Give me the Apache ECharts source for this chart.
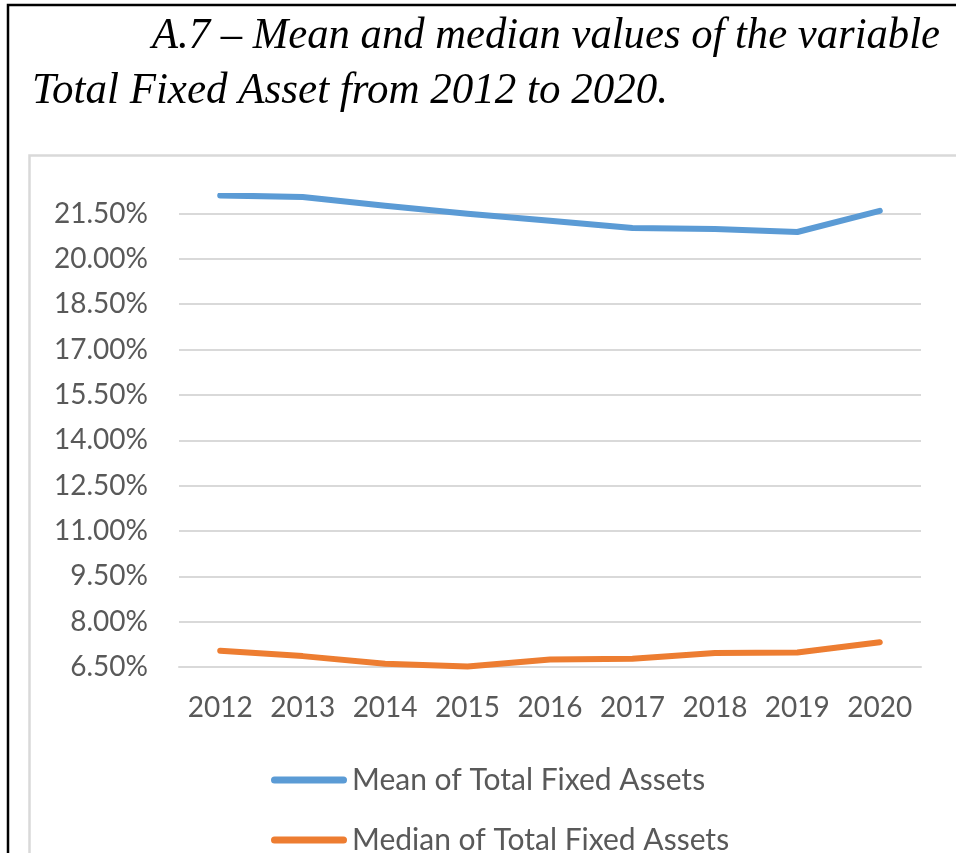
<!DOCTYPE html>
<html>
<head>
<meta charset="utf-8">
<script src="https://cdn.jsdelivr.net/npm/echarts@6/dist/echarts.min.js"></script>
<style>
	html, body { margin: 0; padding: 0; background: #fff; }
	#chart { width: 956px; height: 853px; }
</style>
</head>
<body>
<div id="chart"></div>
<script>
// data
var years = ['2012', '2013', '2014', '2015', '2016', '2017', '2018', '2019', '2020'];
var meanValues = [22.10, 22.05, 21.76, 21.49, 21.26, 21.02, 20.99, 20.89, 21.59];
var medianValues = [7.04, 6.86, 6.61, 6.52, 6.75, 6.77, 6.96, 6.98, 7.32];
var seriesNames = ['Mean of Total Fixed Assets', 'Median of Total Fixed Assets'];
var titleLines = ['A.7 \u2013 Mean and median values of the variable', 'Total Fixed Asset from 2012 to 2020.'];

var labelFont = 'Lato';
var titleFont = 'italic 44px "Liberation Serif"';
var capsule = 'path://M3.5,0 L72.5,0 A3.5,3.5 0 0 1 72.5,7 L3.5,7 A3.5,3.5 0 0 1 3.5,0 Z';

// squeeze the serif title lines to the width they have in the picture
function fitScale(text, width) {
	let ctx = document.createElement('canvas').getContext('2d');
	ctx.font = titleFont;
	return width / ctx.measureText(text).width;
}

function titleText(text, x, y, width) {
	return {
		type: 'text',
		x: x,
		y: y,
		scaleX: fitScale(text, width),
		style: {
			x: 0, y: 0,
			text: text,
			font: titleFont,
			fill: '#000',
			verticalAlign: 'bottom'
		}
	};
}

function drawChart() {
	let myChart = echarts.init(document.getElementById('chart'));

	let option = {
		animation: false,
		color: ['#5B9BD5', '#ED7D31'],
		graphic: [{
			// outer black frame
			type: 'rect',
			shape: { x: 8, y: 5, width: 1000, height: 900 },
			style: { fill: 'none', stroke: '#000', lineWidth: 2.5 },
			silent: true
		}, {
			// inner chart border
			type: 'rect',
			shape: { x: 29.5, y: 155.5, width: 1000, height: 800 },
			style: { fill: 'none', stroke: '#d9d9d9', lineWidth: 2.5 },
			silent: true
		},
			titleText(titleLines[0], 152, 58, 788),
			titleText(titleLines[1], 32, 113, 636)
		],
		grid: {
			left: 179,
			right: 35,
			top: 196,
			bottom: 186,
			containLabel: false
		},
		legend: {
			orient: 'vertical',
			left: 271,
			top: 765,
			height: 160,
			padding: 0,
			itemWidth: 76,
			itemHeight: 7,
			itemGap: 30,
			icon: capsule,
			textStyle: {
				color: '#595959',
				fontSize: 30,
				fontFamily: labelFont
			},
			data: seriesNames
		},
		xAxis: {
			type: 'category',
			boundaryGap: true,
			data: years,
			axisTick: { show: false },
			axisLine: {
				lineStyle: { color: '#d9d9d9', width: 2 }
			},
			axisLabel: {
				interval: 0,
				color: '#595959',
				fontSize: 28,
				fontFamily: labelFont,
				margin: 27
			}
		},
		yAxis: {
			type: 'value',
			min: 6.5,
			max: 22.08,
			interval: 1.5,
			axisLine: { show: false },
			axisTick: { show: false },
			axisLabel: {
				color: '#595959',
				fontSize: 28,
				fontFamily: labelFont,
				margin: 31,
				showMaxLabel: false,
				formatter: function(v) {
					return v.toFixed(2) + '%';
				}
			},
			splitLine: {
				show: true,
				showMaxLine: false,
				lineStyle: { color: '#d9d9d9', width: 2 }
			}
		},
		series: [{
			name: seriesNames[0],
			type: 'line',
			symbol: 'none',
			clip: true,
			lineStyle: { width: 6, cap: 'round', join: 'round' },
			data: meanValues
		}, {
			name: seriesNames[1],
			type: 'line',
			symbol: 'none',
			clip: true,
			lineStyle: { width: 6, cap: 'round', join: 'round' },
			data: medianValues
		}]
	};

	myChart.setOption(option);
	window.addEventListener('resize', function() {
		myChart.resize();
	})
}

drawChart();
</script>
</body>
</html>
